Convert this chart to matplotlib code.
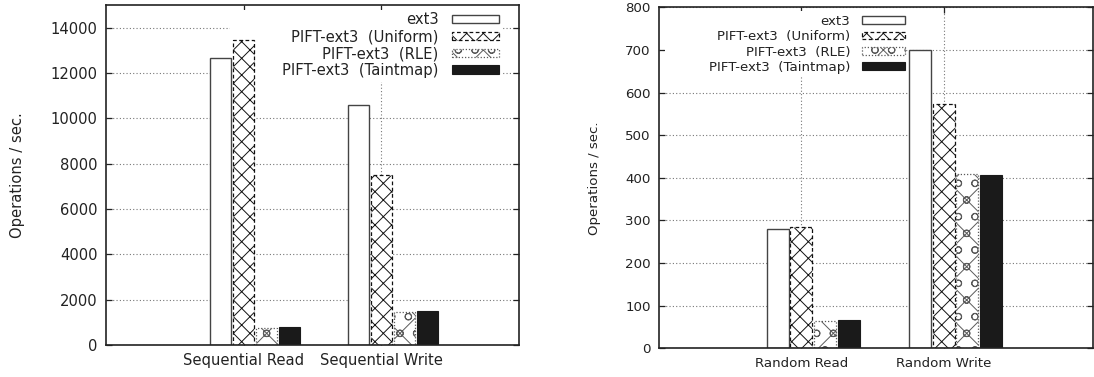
import matplotlib
matplotlib.use('Agg')
import matplotlib.pyplot as plt
from matplotlib.patches import Rectangle
import numpy as np

# ---------------- data ----------------
series_labels = ['ext3', 'PIFT-ext3  (Uniform)', 'PIFT-ext3  (RLE)', 'PIFT-ext3  (Taintmap)']

seq_categories = ['Sequential Read', 'Sequential Write']
seq_ext3 = [12680, 10600]
seq_uniform = [13450, 7490]
seq_rle = [740, 1450]
seq_taintmap = [790, 1510]

rand_categories = ['Random Read', 'Random Write']
rand_ext3 = [281, 699]
rand_uniform = [284, 574]
rand_rle = [65, 409]
rand_taintmap = [66, 407]

seq_yticks = [0, 2000, 4000, 6000, 8000, 10000, 12000, 14000]
rand_yticks = [0, 100, 200, 300, 400, 500, 600, 700, 800]

# ---------------- style ----------------
plt.rcParams['font.family'] = ['DejaVu Sans']
plt.rcParams['hatch.linewidth'] = 0.7

styles = [
    dict(facecolor='white', edgecolor='#444444', hatch=None, linestyle='-', linewidth=1.0),
    dict(facecolor='white', edgecolor='#111111', hatch='xx', linestyle=(0, (3, 2)), linewidth=0.9),
    dict(facecolor='white', edgecolor='#5a5a5a', hatch='xo', linestyle=(0, (1, 1.5)), linewidth=0.9),
    dict(facecolor='#1a1a1a', edgecolor='#1a1a1a', hatch=None, linestyle='-', linewidth=0.8),
]

fig = plt.figure(figsize=(10.94, 3.77), dpi=100)


def draw(ax, cats, data, yticks, ylim, xlim, fs, ylabel_x, bg, leg_anchor, labelspacing, hl):
    x = np.arange(len(cats))
    step = 0.167
    width = 0.155
    for i, (vals, st) in enumerate(zip(data, styles)):
        ax.bar(x + (i - 1) * step, vals, width, label=series_labels[i], zorder=2, **st)
    ax.set_xlim(*xlim)
    ax.set_ylim(*ylim)
    ax.set_xticks(x)
    ax.set_xticklabels(cats, fontsize=fs)
    ax.set_yticks(yticks)
    ax.set_yticklabels([str(t) for t in yticks], fontsize=fs)
    ax.tick_params(direction='in', length=4, width=0.9, top=True, right=True, colors='#222222')
    ax.tick_params(axis='x', pad=6)
    ax.tick_params(axis='y', pad=6)
    ax.set_axisbelow(True)
    ax.grid(True, linestyle=(0, (1, 2)), color='#777777', linewidth=0.8)
    for s in ax.spines.values():
        s.set_linewidth(1.2)
        s.set_color('#222222')
    ax.set_ylabel('Operations / sec.', fontsize=fs, color='#222222')
    ax.yaxis.set_label_coords(ylabel_x, 0.5)
    ax.add_patch(Rectangle((bg[0], bg[1]), bg[2] - bg[0], bg[3] - bg[1],
                           transform=ax.transAxes, facecolor='white', edgecolor='none', zorder=1))
    leg = ax.legend(loc='upper right', bbox_to_anchor=leg_anchor, frameon=False,
                    markerfirst=False, fontsize=fs, handlelength=hl, handleheight=0.5,
                    handletextpad=0.9, labelspacing=labelspacing, borderpad=0, borderaxespad=0)
    leg.set_zorder(5)
    for t in ax.get_xticklabels() + ax.get_yticklabels() + leg.get_texts():
        t.set_color('#222222')


ax1 = fig.add_axes([106 / 1094, 1 - 345 / 377, 413 / 1094, 340 / 377])
draw(ax1, seq_categories, [seq_ext3, seq_uniform, seq_rle, seq_taintmap],
     seq_yticks, (0, 15000), (-1, 2), 10.6, -0.196,
     (0.300, 0.774, 0.961, 0.985), (0.9516, 0.978), 0.12, 3.2)

ax2 = fig.add_axes([659 / 1094, 1 - 348.3 / 377, 434 / 1094, 341 / 377])
draw(ax2, rand_categories, [rand_ext3, rand_uniform, rand_rle, rand_taintmap],
     rand_yticks, (0, 800), (-1, 2.05), 9.6, -0.134,
     (0.014, 0.796, 0.569, 0.99), (0.567, 0.978), 0.18, 3.2)

fig.savefig('out.png', dpi=100)
